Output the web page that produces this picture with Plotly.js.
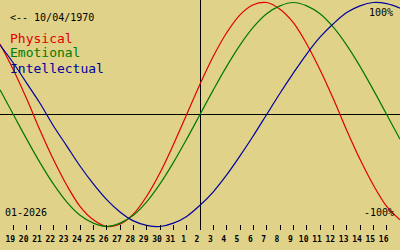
<!DOCTYPE html>
<html>
<head>
<meta charset="utf-8">
<script src="https://cdn.plot.ly/plotly-3.0.1.min.js"></script>
<style>
  html, body { margin: 0; padding: 0; background: #e0d288; }
  #chart { width: 400px; height: 250px; }
</style>
</head>
<body>
<div id="chart"></div>
<script>
// Day offsets from the centre date (2 Jan 2026) and their day-of-month labels
const dayOffset = [-15,-14,-13,-12,-11,-10,-9,-8,-7,-6,-5,-4,-3,-2,-1,0,1,2,3,4,5,6,7,8,9,10,11,12,13,14,15];
const dayLabel  = ['18','19','20','21','22','23','24','25','26','27','28','29','30','31','1','2','3','4','5','6','7','8','9','10','11','12','13','14','15','16','17'];

// Cycle values (-1 .. 1)
const physical = [0.63,0.40,0.14,-0.14,-0.40,-0.63,-0.82,-0.94,-1.00,-0.98,-0.89,-0.73,-0.52,-0.27,0.00,0.27,0.52,0.73,0.89,0.98,1.00,0.94,0.82,0.63,0.40,0.14,-0.14,-0.40,-0.63,-0.82,-0.94];
const emotional = [0.22,0.00,-0.22,-0.43,-0.62,-0.78,-0.90,-0.97,-1.00,-0.97,-0.90,-0.78,-0.62,-0.43,-0.22,0.00,0.22,0.43,0.62,0.78,0.90,0.97,1.00,0.97,0.90,0.78,0.62,0.43,0.22,0.00,-0.22];
const intellectual = [0.62,0.46,0.28,0.10,-0.10,-0.28,-0.46,-0.62,-0.76,-0.87,-0.95,-0.99,-1.00,-0.97,-0.91,-0.81,-0.69,-0.54,-0.37,-0.19,0.00,0.19,0.37,0.54,0.69,0.81,0.91,0.97,1.00,0.99,0.95];

const seriesNames = ['Physical','Emotional','Intellectual'];
const seriesColors = ['#e00000','#007a00','#0000a0'];
const seriesValues = [physical, emotional, intellectual];

const birthText = '<-- 10/04/1970';
const monthText = '01-2026';
const topText = '100%';
const bottomText = '-100%';

const W = 400, H = 250;
const px = x => x / W;
const py = y => 1 - y / H;
const mono = 'DejaVu Sans Mono, Liberation Mono, monospace';

const traces = seriesValues.map((vals, i) => ({
  x: dayOffset,
  y: vals,
  type: 'scatter',
  mode: 'lines',
  name: seriesNames[i],
  line: { color: seriesColors[i], width: 1.2, shape: 'spline', smoothing: 1 },
  hoverinfo: 'skip'
}));

const annotations = [
  { text: birthText, x: px(8), y: py(17), color: '#000', size: 10, xanchor: 'left' },
  { text: monthText, x: px(3), y: py(212.5), color: '#000', size: 10, xanchor: 'left' },
  { text: topText, x: px(395), y: py(12), color: '#000', size: 10, xanchor: 'right' },
  { text: bottomText, x: px(396), y: py(212.5), color: '#000', size: 10, xanchor: 'right' }
].concat(seriesNames.map((n, i) => ({
  text: n, x: px(8), y: py(38 + 15 * i), color: seriesColors[i], size: 13, xanchor: 'left'
}))).map(a => ({
  text: a.text, x: a.x, y: a.y, xref: 'paper', yref: 'paper',
  xanchor: a.xanchor, yanchor: 'middle', showarrow: false,
  font: { family: mono, size: a.size, color: a.color }
}));

const layout = {
  width: W, height: H,
  margin: { l: 0, r: 0, t: 0, b: 0, pad: 0 },
  paper_bgcolor: '#e0d288',
  plot_bgcolor: '#e0d288',
  showlegend: false,
  xaxis: {
    range: [-15, 15],
    tickvals: dayOffset.slice(1, -1),
    ticktext: dayLabel.slice(1, -1),
    ticks: 'inside', ticklen: 5, tickwidth: 1, tickcolor: '#000',
    tickfont: { family: mono, size: 8, color: '#000', weight: 'bold' },
    ticklabelshift: -3,
    ticklabelstandoff: 3,
    showgrid: false, showline: false,
    zeroline: true, zerolinecolor: '#000', zerolinewidth: 1,
    fixedrange: true
  },
  yaxis: {
    domain: [0.08, 1],
    range: [-1.03125, 1.0223],
    showticklabels: false, ticks: '', showgrid: false, showline: false,
    zeroline: true, zerolinecolor: '#000', zerolinewidth: 1,
    fixedrange: true
  },
  annotations: annotations
};

Plotly.newPlot('chart', traces, layout, { staticPlot: true, displayModeBar: false });
</script>
</body>
</html>
